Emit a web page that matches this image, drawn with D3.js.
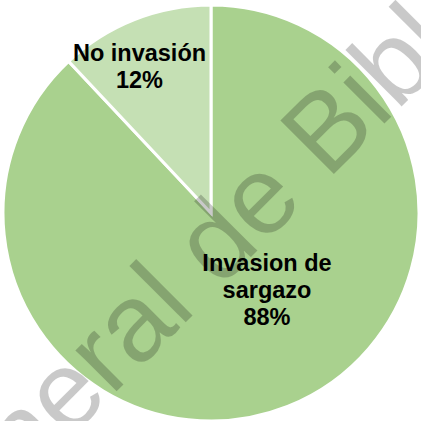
<!DOCTYPE html>
<html>
<head>
<meta charset="utf-8">
<script src="https://cdn.jsdelivr.net/npm/d3@7"></script>
<style>
  html, body { margin: 0; padding: 0; background: #ffffff; }
  svg { display: block; }
</style>
</head>
<body>
<svg id="chart" width="421" height="421"></svg>
<script>
// Slice data, in drawing order (clockwise from 12 o'clock)
const categories = ["Invasion de sargazo", "No invasión"];
const values = [88, 12];
const labelLines = [["Invasion de", "sargazo", "88%"], ["No invasión", "12%"]];
const sliceColors = ["#a9d18e", "#c5e0b4"];

const width = 421, height = 421;
const cx = 211, cy = 213, radius = 208;

// Label anchor (first baseline) relative to the pie centre, and line spacing
const labelOffsets = [[56, 58], [-71.5, -152]];
const lineHeight = 27;

const svg = d3.select("#chart");
const g = svg.append("g").attr("transform", `translate(${cx},${cy})`);

const pie = d3.pie().sort(null).value(d => d.value).startAngle(0).endAngle(2 * Math.PI);
const arc = d3.arc().innerRadius(0).outerRadius(radius);

const data = categories.map((c, i) => ({ name: c, value: values[i], lines: labelLines[i], color: sliceColors[i] }));
const arcs = pie(data);

g.selectAll("path.slice")
  .data(arcs)
  .join("path")
  .attr("class", "slice")
  .attr("d", arc)
  .attr("fill", d => d.data.color)
  .attr("stroke", "#ffffff")
  .attr("stroke-width", 3)
  .attr("stroke-linejoin", "miter");

// Data labels
const labels = g.selectAll("text.label")
  .data(arcs)
  .join("text")
  .attr("class", "label")
  .attr("text-anchor", "middle")
  .attr("font-family", "'Liberation Sans', Arial, sans-serif")
  .attr("font-weight", "bold")
  .attr("font-size", 23.5)
  .attr("fill", "#000000")
  .attr("transform", (d, i) => `translate(${labelOffsets[i][0]},${labelOffsets[i][1]})`);

labels.selectAll("tspan")
  .data(d => d.data.lines)
  .join("tspan")
  .attr("x", 0)
  .attr("y", (d, i) => i * lineHeight)
  .text(d => d);

// Library watermark across the page
svg.append("text")
  .attr("transform", "translate(-79,587) rotate(-45)")
  .attr("font-family", "'Liberation Sans', Arial, sans-serif")
  .attr("font-size", 110)
  .attr("fill", "rgba(0,0,0,0.21)")
  .text("General de Bibliotecas");
</script>
</body>
</html>
